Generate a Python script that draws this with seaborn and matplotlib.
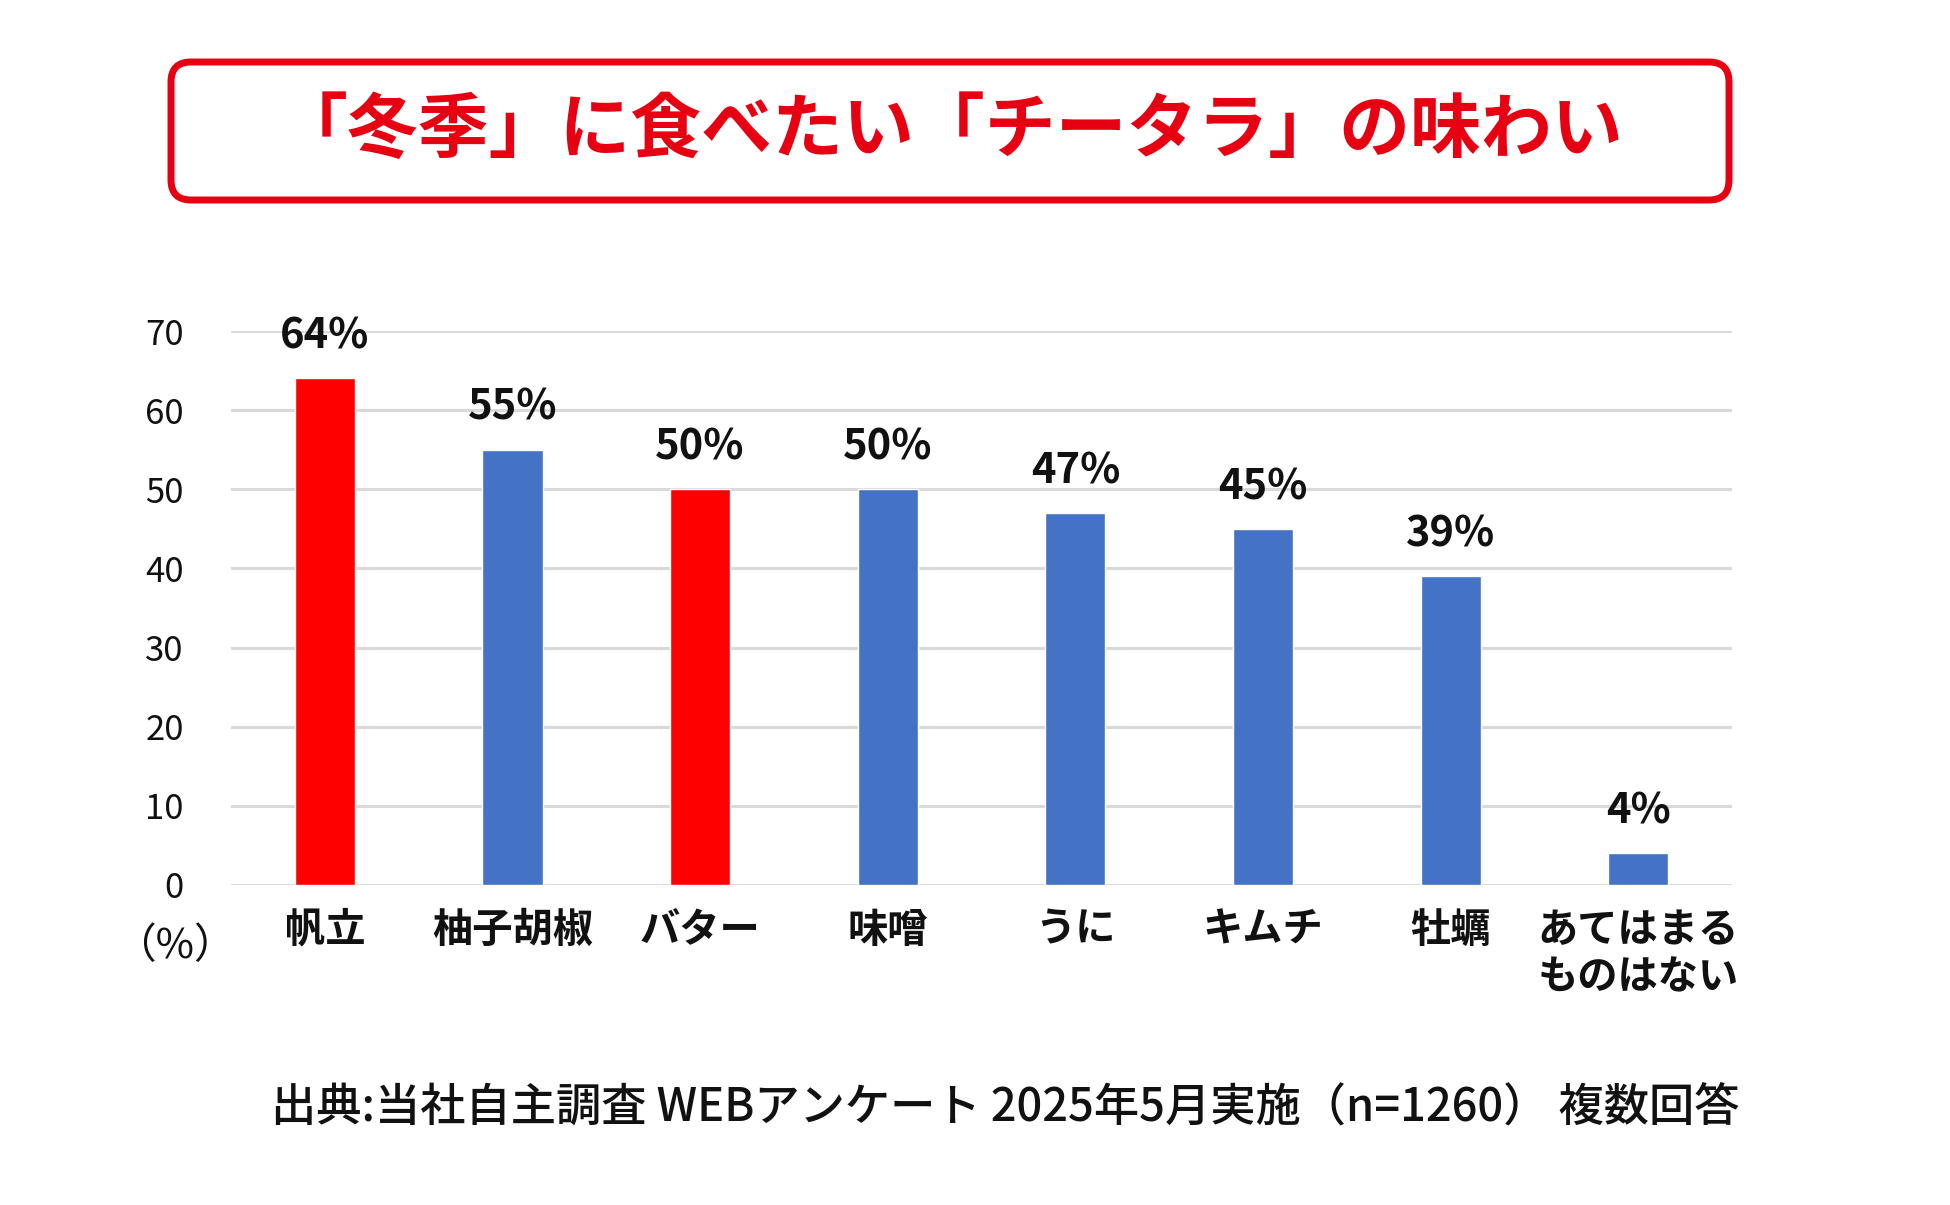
import pandas as pd
import seaborn as sns
import matplotlib.pyplot as plt
from matplotlib.patches import FancyBboxPatch

# Data
categories = ['帆立', '柚子胡椒', 'バター', '味噌', 'うに', 'キムチ', '牡蠣', 'あてはまる\nものはない']
values = [64, 55, 50, 50, 47, 45, 39, 4]
value_labels = ['64%', '55%', '50%', '50%', '47%', '45%', '39%', '4%']
bar_colors = ['#FF0000', '#4472C4', '#FF0000', '#4472C4', '#4472C4', '#4472C4', '#4472C4', '#4472C4']
y_ticks = [0, 10, 20, 30, 40, 50, 60, 70]

title_text = '「冬季」に食べたい「チータラ」の味わい'
source_text = '出典:当社自主調査 WEBアンケート 2025年5月実施（n=1260） 複数回答'

sns.set_theme(style='white')
plt.rcParams['font.family'] = ['Noto Sans CJK JP', 'DejaVu Sans']

df = pd.DataFrame({'item': categories, 'value': values})

fig = plt.figure(figsize=(19.5, 12.05), dpi=100)
ax = fig.add_axes([0.1185, 0.2656, 0.7697, 0.4597])

sns.barplot(data=df, x='item', y='value', hue='item', order=categories,
            palette=bar_colors, width=0.32, legend=False, ax=ax, saturation=1)

ax.set_ylim(0, 70)
ax.set_xlim(-0.5, len(categories) - 0.5)
ax.set_yticks(y_ticks)
ax.yaxis.grid(True, color='#d9d9d9', linewidth=2.2)
ax.set_axisbelow(True)
for s in ax.spines.values():
    s.set_visible(False)
ax.set_xlabel('')
ax.set_ylabel('')
ax.tick_params(axis='y', labelsize=25, pad=34, length=0, labelcolor='#111111')
ax.tick_params(axis='x', labelsize=29, pad=18, length=0, labelcolor='#111111')
for lab in ax.get_xticklabels():
    lab.set_fontweight('bold')
    lab.set_verticalalignment('top')
    lab.set_linespacing(1.2)

# value labels above bars
for i, (v, t) in enumerate(zip(values, value_labels)):
    ax.annotate(t, (i, v), xytext=(0, 15), textcoords='offset points',
                ha='center', va='bottom', fontsize=30, fontweight='bold', color='#111111')

# overlay in pixel units for title box, unit and source
ov = fig.add_axes([0, 0, 1, 1], zorder=-1)
ov.set_xlim(0, 1950)
ov.set_ylim(1205, 0)
ov.axis('off')
box = FancyBboxPatch((171, 62), 1558, 138, boxstyle='round,pad=0,rounding_size=20',
                     facecolor='white', edgecolor='#E60012', linewidth=5)
ov.add_patch(box)
ov.text(950, 131, title_text, ha='center', va='center', fontsize=51,
        fontweight='bold', color='#E60012')
ov.text(175, 946, '（%）', ha='center', va='center', fontsize=30, color='#111111')
ov.text(1005, 1107, source_text, ha='center', va='center', fontsize=32.6,
        fontweight='medium', color='#111111')

fig.savefig('out.png', dpi=100, facecolor='white')
